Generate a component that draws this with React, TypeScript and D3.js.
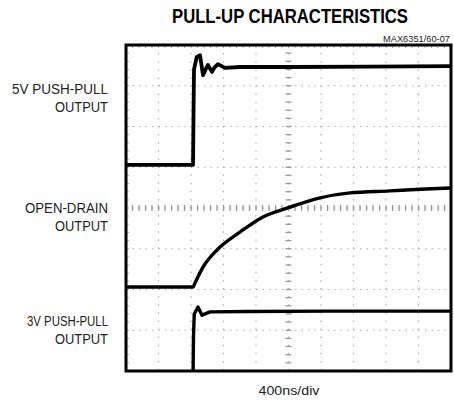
import React from "react";
import * as d3 from "d3";

// time in ns (400ns/div, 10 divisions), level in divisions (0..8 from bottom)
const push5T = [0, 825, 832, 837, 870, 911, 948, 980, 1009, 1058, 1090, 1132, 1218, 1403, 2000, 3000, 4000];
const push5V = [5.06, 5.06, 6.5, 7.4, 7.7, 7.75, 7.26, 7.4, 7.51, 7.34, 7.45, 7.53, 7.44, 7.46, 7.46, 7.47, 7.48];

const openT = [0, 825, 849, 948, 1120, 1403, 1686, 2018, 2388, 2757, 3249, 3618, 4000];
const openV = [2.06, 2.06, 2.16, 2.55, 2.97, 3.41, 3.78, 4.02, 4.25, 4.37, 4.42, 4.46, 4.49];

const push3T = [0, 825, 830, 840, 886, 935, 1034, 1500, 2500, 4000];
const push3V = [-0.2, -0.2, 0.8, 1.4, 1.57, 1.37, 1.45, 1.46, 1.47, 1.47];

const channelLabels = [
  ["5V PUSH-PULL", "OUTPUT"],
  ["OPEN-DRAIN", "OUTPUT"],
  ["3V PUSH-PULL", "OUTPUT"],
];
const title = "PULL-UP CHARACTERISTICS";
const partNo = "MAX6351/60-07";
const timebase = "400ns/div";

const X_DIVS = 10;
const Y_DIVS = 8;

export default function App() {
  const L = 126, R = 451, T = 45, B = 371;
  const x = d3.scaleLinear().domain([0, 4000]).range([L, R]);
  const y = d3.scaleLinear().domain([0, Y_DIVS]).range([B, T]);
  const xd = d3.scaleLinear().domain([0, X_DIVS]).range([L, R]);

  const mk = (ts: number[], vs: number[], curve: d3.CurveFactory) =>
    d3.line<number>().x((_, i) => x(ts[i])).y((_, i) => y(vs[i])).curve(curve)(ts) || "";

  const font = "'Liberation Sans Narrow', 'Arial Narrow', 'Liberation Sans', sans-serif";

  const vLines = d3.range(1, X_DIVS);
  const hLines = d3.range(1, Y_DIVS);
  const minorX = d3.range(0, X_DIVS * 5 + 1).map((i) => i / 5);
  const minorY = d3.range(0, Y_DIVS * 5 + 1).map((i) => i / 5);

  const labelY = [[94, 112], [213, 231], [326, 344]];
  const labelW = [[96, 53], [83, 53], [81, 53]];

  return (
    <svg width={454} height={404} style={{ position: "absolute", left: 0, top: 0, background: "#fff" }}>
      <defs>
        <clipPath id="plot">
          <rect x={L} y={T} width={R - L} height={B - T} />
        </clipPath>
        <filter id="soft" x="-5%" y="-5%" width="110%" height="110%">
          <feGaussianBlur stdDeviation="0.5" />
        </filter>
      </defs>
      <text x={290} y={23} textAnchor="middle" fontFamily={font} fontWeight="bold" fontSize={20}
        textLength={236} lengthAdjust="spacingAndGlyphs">{title}</text>
      <text x={450} y={42} textAnchor="end" fontFamily={font} fontSize={9.5} fill="#222"
        textLength={67} lengthAdjust="spacingAndGlyphs">{partNo}</text>

      <g clipPath="url(#plot)">
        {vLines.map((d) => (
          <line key={"v" + d} x1={xd(d)} x2={xd(d)} y1={T} y2={B} stroke="#b0b0b0" strokeWidth={1.2}
            strokeDasharray="1.5,6.6" />
        ))}
        {hLines.map((d) => (
          <line key={"h" + d} x1={L} x2={R} y1={y(d)} y2={y(d)} stroke="#b0b0b0" strokeWidth={1.2}
            strokeDasharray="1.5,5" />
        ))}
        {minorY.map((d) => (
          <line key={"my" + d} x1={xd(5) - 3} x2={xd(5) + 3} y1={y(d)} y2={y(d)} stroke="#999" strokeWidth={1.3} />
        ))}
        {minorX.map((d) => (
          <line key={"mx" + d} x1={xd(d)} x2={xd(d)} y1={y(4) - 3} y2={y(4) + 3} stroke="#999" strokeWidth={1.3} />
        ))}
        {minorY.map((d) => (
          <line key={"ly" + d} x1={L} x2={L + 3} y1={y(d)} y2={y(d)} stroke="#aaa" strokeWidth={1} />
        ))}
        {minorX.map((d) => (
          <line key={"tx" + d} x1={xd(d)} x2={xd(d)} y1={T} y2={T + 3} stroke="#aaa" strokeWidth={1} />
        ))}
        <g filter="url(#soft)" fill="none" stroke="#000" strokeLinejoin="round">
          <path d={mk(push5T, push5V, d3.curveLinear)} strokeWidth={3.8} />
          <path d={mk(openT, openV, d3.curveMonotoneX)} strokeWidth={3.4} />
          <path d={mk(push3T, push3V, d3.curveLinear)} strokeWidth={3.4} />
        </g>
      </g>
      <rect x={L} y={T} width={R - L} height={B - T} fill="none" stroke="#000" strokeWidth={3} />

      {channelLabels.map((lines, i) =>
        lines.map((t, j) => (
          <text key={i + "-" + j} x={108} y={labelY[i][j]} textAnchor="end" fontFamily={font}
            fontSize={15} fill="#222" textLength={labelW[i][j]} lengthAdjust="spacingAndGlyphs">{t}</text>
        ))
      )}
      <text x={289} y={395} textAnchor="middle" fontFamily={font} fontSize={13} fill="#222"
        textLength={61} lengthAdjust="spacingAndGlyphs">{timebase}</text>
    </svg>
  );
}
